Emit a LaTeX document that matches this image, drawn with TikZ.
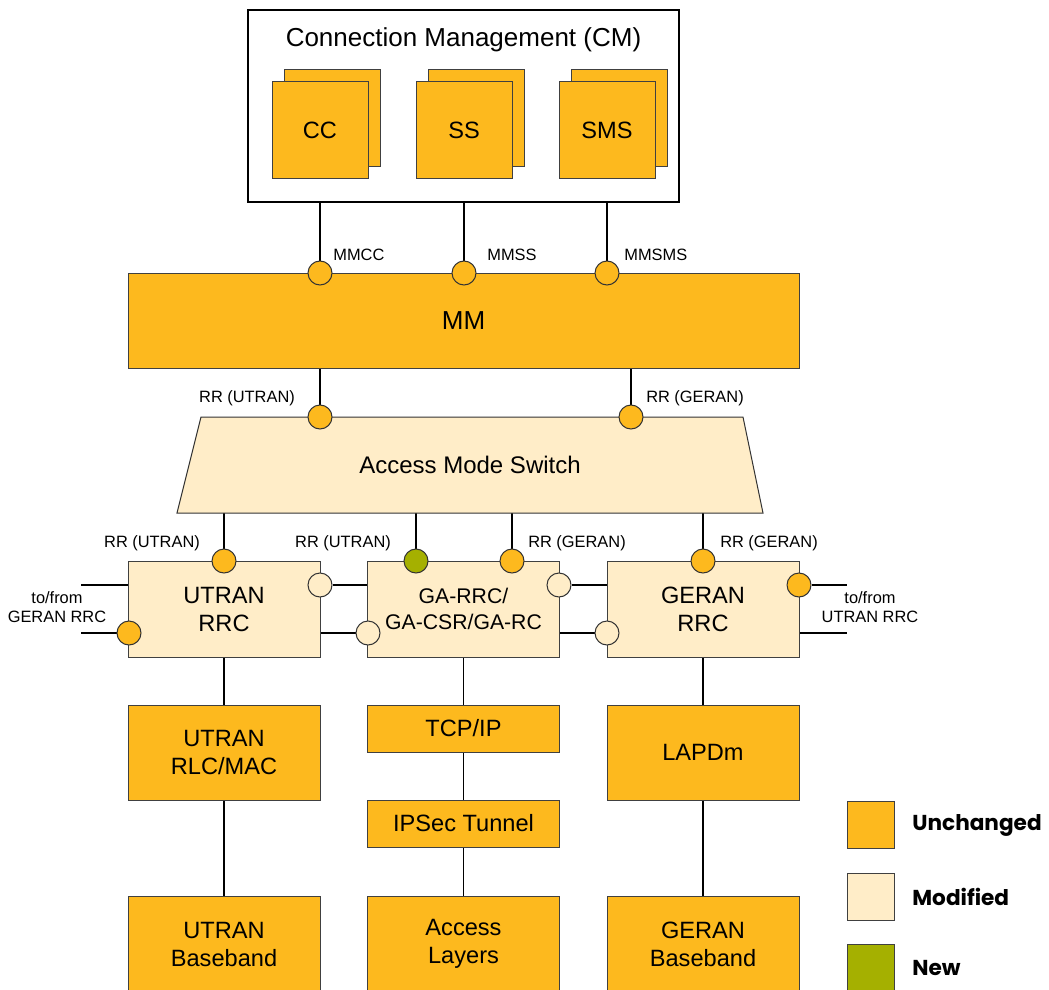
\documentclass[tikz,border=0pt]{standalone}
\usepackage{fontspec}
\setmainfont{Liberation Sans}
\newfontfamily\legfont{Poppins}
\usetikzlibrary{backgrounds}
\definecolor{unch}{RGB}{253,185,30}
\definecolor{modi}{RGB}{255,237,200}
\definecolor{newc}{RGB}{165,176,0}

\begin{document}
\begin{tikzpicture}[x=0.5pt, y=-0.5pt,
    blk/.style={draw=black!75, line width=0.5pt, fill=unch, minimum width=96pt, minimum height=48pt, inner sep=0pt, align=center, font=\fontsize{11.8}{14}\selectfont},
    mod/.style={blk, fill=modi},
    port/.style={circle, draw=black!80, line width=0.5pt, fill=unch, minimum size=12pt, inner sep=0pt},
    lnk/.style={line width=0.8pt},
    lbl/.style={font=\fontsize{8.2}{9.3}\selectfont, align=center, inner sep=0pt},
    leg/.style={anchor=west, inner sep=0pt, font=\legfont\bfseries\fontsize{10.8}{12}\selectfont}
]
\useasboundingbox (0,0) rectangle (1049,990);

% connection management
\node[draw, line width=0.7pt, fill=white, minimum width=215.5pt, minimum height=96pt] (cm) at (463.5,106) {};
\node[font=\fontsize{13}{15}\selectfont] (cmtitle) at (463.5,40) {Connection Management (CM)};
\node[blk, minimum width=48pt] (ccb) at (332,118) {};
\node[blk, minimum width=48pt] (cc) at (320,130) {CC};
\node[blk, minimum width=48pt] (ssb) at (476,118) {};
\node[blk, minimum width=48pt] (ss) at (464,130) {SS};
\node[blk, minimum width=48pt] (smsb) at (619,118) {};
\node[blk, minimum width=48pt] (sms) at (607,130) {SMS};

% mobility management
\node[blk, minimum width=335.5pt, minimum height=47.5pt, font=\fontsize{13}{15}\selectfont] (mm) at (463.5,320.5) {MM};
\node[port] (pcc) at (320,273) {};
\node[port] (pss) at (464,273) {};
\node[port] (psms) at (607,273) {};
\node[lbl, anchor=west] (lmmcc) at (333,255) {MMCC};
\node[lbl, anchor=west] (lmmss) at (487,255) {MMSS};
\node[lbl, anchor=west] (lmmsms) at (624,255) {MMSMS};

% access mode switch
\draw[draw=black!80, line width=0.5pt, fill=modi] (177,513) -- (201,417) -- (743,417) -- (763,513) -- cycle;
\node[font=\fontsize{12}{14}\selectfont] (ams) at (470,465) {Access Mode Switch};
\coordinate (amsb) at (470,513);
\node[port] (pmu) at (320,417) {};
\node[port] (pmg) at (631,417) {};
\node[lbl] (lmu) at (247,398) {RR (UTRAN)};
\node[lbl] (lmg) at (695,398) {RR (GERAN)};

% rrc layer
\node[mod] (utrrc) at (224,609) {UTRAN\\RRC};
\node[mod, font=\fontsize{10.6}{13}\selectfont] (garrc) at (463.5,609) {GA-RRC/\\GA-CSR/GA-RC};
\node[mod] (gerrc) at (703,609) {GERAN\\RRC};
\node[port] (put) at (224,561) {};
\node[port, fill=newc] (pga1) at (416,561) {};
\node[port] (pga2) at (512,561) {};
\node[port] (pge) at (703,561) {};
\node[port, fill=modi] (pur) at (320,585) {};
\node[port] (pul) at (129,633) {};
\node[port, fill=modi] (pgar) at (559,585) {};
\node[port, fill=modi] (pgal) at (368,633) {};
\node[port] (pger) at (799,585) {};
\node[port, fill=modi] (pgel) at (607,633) {};
\node[lbl] (lut) at (152,543) {RR (UTRAN)};
\node[lbl] (lga1) at (343,543) {RR (UTRAN)};
\node[lbl] (lga2) at (577,543) {RR (GERAN)};
\node[lbl] (lge) at (769,543) {RR (GERAN)};
\node[lbl] (lul) at (57,607) {to/from\\GERAN RRC};
\node[lbl] (lgr) at (870,607) {to/from\\UTRAN RRC};
\coordinate (ul1) at (81,585);
\coordinate (ul2) at (81,633);
\coordinate (gr1) at (847,585);
\coordinate (gr2) at (847,633);

% lower layers
\node[blk, minimum height=47.5pt] (utrlc) at (224,752.5) {UTRAN\\RLC/MAC};
\node[blk, minimum height=23.5pt] (tcp) at (463.5,728.5) {TCP/IP};
\node[blk, minimum height=23.5pt] (ipsec) at (463.5,823.5) {IPSec Tunnel};
\node[blk, minimum height=47.5pt] (lapdm) at (703,752.5) {LAPDm};
\node[blk] (utbb) at (224,944) {UTRAN\\Baseband};
\node[blk] (acc) at (463.5,944) {Access\\Layers};
\node[blk] (gebb) at (703,944) {GERAN\\Baseband};

% legend
\node[blk, minimum width=23.5pt, minimum height=23.5pt] (lgu) at (870.5,824.5) {};
\node[mod, minimum width=23.5pt, minimum height=23.5pt] (lgm) at (870.5,896.5) {};
\node[blk, fill=newc, minimum width=23.5pt, minimum height=23.5pt] (lgn) at (870.5,967.5) {};
\node[leg] (lgut) at (912,825) {Unchanged};
\node[leg] (lgmt) at (912,897) {Modified};
\node[leg] (lgnt) at (912,968) {New};

\begin{scope}[on background layer]
\draw[lnk] (cc) -- (pcc);
\draw[lnk] (ss) -- (pss);
\draw[lnk] (sms) -- (psms);
\draw[lnk] (pmu |- mm.south) -- (pmu);
\draw[lnk] (pmg |- mm.south) -- (pmg);
\draw[lnk] (put |- amsb) -- (put);
\draw[lnk] (pga1 |- amsb) -- (pga1);
\draw[lnk] (pga2 |- amsb) -- (pga2);
\draw[lnk] (pge |- amsb) -- (pge);
\draw[lnk] (ul1) -- (ul1 -| utrrc.west);
\draw[lnk] (ul2) -- (pul);
\draw[lnk] (pur) -- (pur -| garrc.west);
\draw[lnk] (utrrc.east |- pgal) -- (pgal);
\draw[lnk] (pgar) -- (pgar -| gerrc.west);
\draw[lnk] (garrc.east |- pgel) -- (pgel);
\draw[lnk] (pger) -- (gr1);
\draw[lnk] (gerrc.east |- gr2) -- (gr2);
\draw[lnk] (utrrc) -- (utrlc);
\draw[lnk] (utrlc) -- (utbb);
\draw[lnk] (garrc) -- (tcp);
\draw[lnk] (tcp) -- (ipsec);
\draw[lnk] (ipsec) -- (acc);
\draw[lnk] (gerrc) -- (lapdm);
\draw[lnk] (lapdm) -- (gebb);
\end{scope}
\end{tikzpicture}
\end{document}
